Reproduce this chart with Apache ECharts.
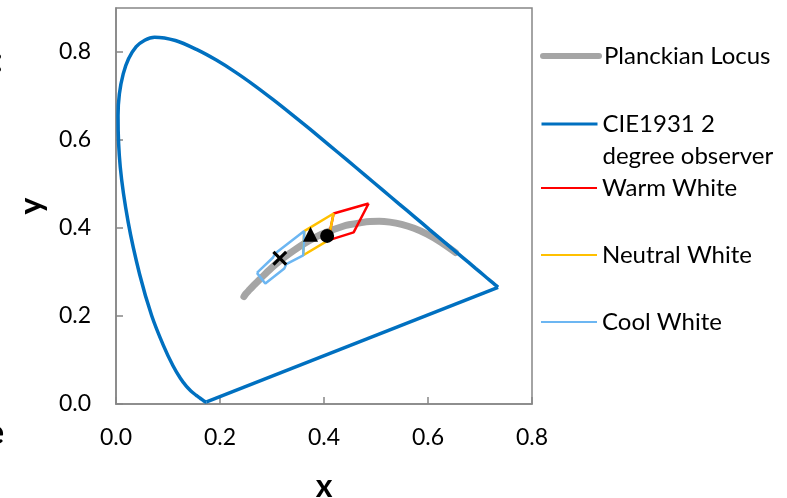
<!DOCTYPE html>
<html>
<head>
<meta charset="utf-8">
<script src="https://cdn.jsdelivr.net/npm/echarts@6/dist/echarts.min.js"></script>
<style>
  html, body { margin: 0; padding: 0; background: #fff; }
  #chart { width: 787px; height: 498px; }
</style>
</head>
<body>
<div id="chart"></div>
<script>
// CIE 1931 2 degree spectral locus, 380 -> 700 nm
const cieX = [0.1741, 0.1738, 0.1733, 0.1726, 0.1714, 0.1703, 0.1689, 0.1669, 0.1644, 0.1611, 0.1566, 0.1510, 0.1440, 0.1355, 0.1241, 0.1096, 0.0913, 0.0687, 0.0454, 0.0235, 0.0082, 0.0039, 0.0139, 0.0389, 0.0743, 0.1142, 0.1547, 0.1929, 0.2296, 0.2658, 0.3016, 0.3373, 0.3731, 0.4087, 0.4441, 0.4788, 0.5125, 0.5448, 0.5752, 0.6029, 0.6270, 0.6658, 0.6915, 0.7079, 0.7190, 0.7260, 0.7300, 0.7334, 0.7347];
const cieY = [0.0050, 0.0049, 0.0048, 0.0048, 0.0051, 0.0058, 0.0069, 0.0086, 0.0109, 0.0138, 0.0177, 0.0227, 0.0297, 0.0399, 0.0578, 0.0868, 0.1327, 0.2007, 0.2950, 0.4127, 0.5384, 0.6548, 0.7502, 0.8120, 0.8338, 0.8262, 0.8059, 0.7816, 0.7543, 0.7243, 0.6923, 0.6589, 0.6245, 0.5896, 0.5547, 0.5202, 0.4866, 0.4544, 0.4242, 0.3965, 0.3725, 0.3340, 0.3083, 0.2920, 0.2809, 0.2740, 0.2700, 0.2666, 0.2653];

// Planckian locus, ~1000 K down to very high CCT
const planckX = [0.6528, 0.6251, 0.5985, 0.5732, 0.5492, 0.5267, 0.5062, 0.4880, 0.4720, 0.4476, 0.4369, 0.4053, 0.3805, 0.3608, 0.3451, 0.3325, 0.3221, 0.3135, 0.3064, 0.2952, 0.2869, 0.2807, 0.2719, 0.2637, 0.2565, 0.2501, 0.2460];
const planckY = [0.3444, 0.3674, 0.3858, 0.3993, 0.4082, 0.4133, 0.4152, 0.4147, 0.4123, 0.4074, 0.4041, 0.3907, 0.3768, 0.3636, 0.3516, 0.3411, 0.3318, 0.3237, 0.3166, 0.3048, 0.2956, 0.2884, 0.2779, 0.2681, 0.2592, 0.2510, 0.2440];

// white-light bins (closed outlines)
const warmX = [0.4858, 0.4185, 0.4080, 0.4570, 0.4858];
const warmY = [0.4557, 0.4330, 0.3720, 0.3900, 0.4557];
const neutralX = [0.3620, 0.4185, 0.4080, 0.3600, 0.3620];
const neutralY = [0.3930, 0.4330, 0.3720, 0.3380, 0.3930];
const coolX = [0.2710, 0.3020, 0.3060, 0.3620, 0.3600, 0.3275, 0.3237, 0.2871, 0.2710];
const coolY = [0.2980, 0.3330, 0.3420, 0.3930, 0.3380, 0.3180, 0.3080, 0.2740, 0.2980];

// measured points
const crossPt = [0.315, 0.331];
const trianglePt = [0.374, 0.386];
const circlePt = [0.406, 0.382];

const xTicks = [0, 0.2, 0.4, 0.6, 0.8];
const yTicks = [0, 0.2, 0.4, 0.6, 0.8];

const CIE_NAME = "CIE1931 2\ndegree observer";

const pairs = (xs, ys) => xs.map((x, i) => [x, ys[i]]);
const last = (arr) => arr[arr.length - 1];

const chart = echarts.init(document.getElementById("chart"));
const FONT = "Lato, sans-serif";
const AXIS_GREY = "#868686";

const lineSeries = (name, data, color, width, extra) => Object.assign({
  name: name,
  type: "line",
  data: data,
  symbol: "none",
  smooth: false,
  silent: true,
  itemStyle: { color: color },
  lineStyle: { color: color, width: width },
}, extra || {});

// one legend per entry so the uneven spacing of the original can be kept
const legendAt = (name, top, lineWidth, cap) => ({
  data: [name],
  left: 540,
  top: top,
  orient: "vertical",
  padding: 0,
  itemWidth: 56,
  itemHeight: 14,
  itemGap: 0,
  selectedMode: false,
  itemStyle: { opacity: 0 },
  lineStyle: { width: lineWidth, cap: cap || "butt" },
  formatter: (n) => (n === CIE_NAME ? "\n" + n : n),
  textStyle: { fontFamily: FONT, fontSize: 24, color: "#000", lineHeight: 32 },
});

const option = {
  backgroundColor: "#fff",
  animation: false,
  grid: {
    left: 116,
    right: 255,
    top: 8,
    bottom: 94,
    outerBoundsMode: "none",
    containLabel: false,
    show: true,
    borderColor: AXIS_GREY,
    borderWidth: 1.5,
    backgroundColor: "#fff",
  },
  xAxis: {
    type: "value",
    min: xTicks[0],
    max: last(xTicks),
    interval: 0.2,
    name: "x",
    nameLocation: "middle",
    nameGap: 67,
    nameTextStyle: { fontFamily: FONT, fontSize: 32, fontWeight: "bold", color: "#000" },
    axisLine: { lineStyle: { color: AXIS_GREY, width: 1.5 } },
    axisTick: { inside: true, length: 7, lineStyle: { color: AXIS_GREY, width: 1.5 } },
    axisLabel: { margin: 22, fontFamily: FONT, fontSize: 23, color: "#000", formatter: (v) => v.toFixed(1) },
    splitLine: { show: false },
  },
  yAxis: {
    type: "value",
    min: yTicks[0],
    max: 0.9,
    interval: 0.2,
    name: "y",
    nameLocation: "middle",
    nameGap: 66,
    nameTextStyle: { fontFamily: FONT, fontSize: 32, fontWeight: "bold", color: "#000" },
    axisLine: { lineStyle: { color: AXIS_GREY, width: 1.5 } },
    axisTick: { inside: true, length: 7, lineStyle: { color: AXIS_GREY, width: 1.5 } },
    axisLabel: { margin: 25, showMaxLabel: false, fontFamily: FONT, fontSize: 23, color: "#000", formatter: (v) => v.toFixed(1) },
    splitLine: { show: false },
  },
  legend: [
    legendAt("Planckian Locus", 40, 6, "round"),
    legendAt(CIE_NAME, 76, 3),
    legendAt("Warm White", 172, 2),
    legendAt("Neutral White", 239, 2),
    legendAt("Cool White", 306, 2),
  ],
  graphic: [
    { type: "text", left: -6, top: 44, style: { text: ":", font: "bold 34px " + FONT, fill: "#000" } },
    { type: "text", left: -14, top: 416, style: { text: "e", font: "bold 34px " + FONT, fill: "#000" } },
  ],
  series: [
    lineSeries("Planckian Locus", pairs(planckX, planckY), "#a5a5a5", 7, { smooth: 0.3, lineStyle: { color: "#a5a5a5", width: 7, cap: "round" } }),
    // spectral locus (smoothed) and the straight purple line closing it
    lineSeries(CIE_NAME, pairs(cieX, cieY), "#0070c0", 3.5, { smooth: 0.3 }),
    lineSeries(CIE_NAME, [[last(cieX), last(cieY)], [cieX[0], cieY[0]]], "#0070c0", 3.5),
    lineSeries("Warm White", pairs(warmX, warmY), "#ff0000", 2.5),
    lineSeries("Neutral White", pairs(neutralX, neutralY), "#ffc000", 2.5),
    lineSeries("Cool White", pairs(coolX, coolY), "#6cb6f2", 2.5),
    {
      type: "scatter",
      data: [crossPt],
      symbol: "path://M3,0L10,7L17,0L20,3L13,10L20,17L17,20L10,13L3,20L0,17L7,10L0,3Z",
      symbolSize: 15,
      itemStyle: { color: "#000", opacity: 1 },
      silent: true,
      z: 5,
    },
    {
      type: "scatter",
      data: [trianglePt],
      symbol: "triangle",
      symbolSize: 15,
      itemStyle: { color: "#000", opacity: 1 },
      silent: true,
      z: 5,
    },
    {
      type: "scatter",
      data: [circlePt],
      symbol: "circle",
      symbolSize: 14,
      itemStyle: { color: "#000", opacity: 1 },
      silent: true,
      z: 5,
    },
  ],
};

chart.setOption(option);
</script>
</body>
</html>
